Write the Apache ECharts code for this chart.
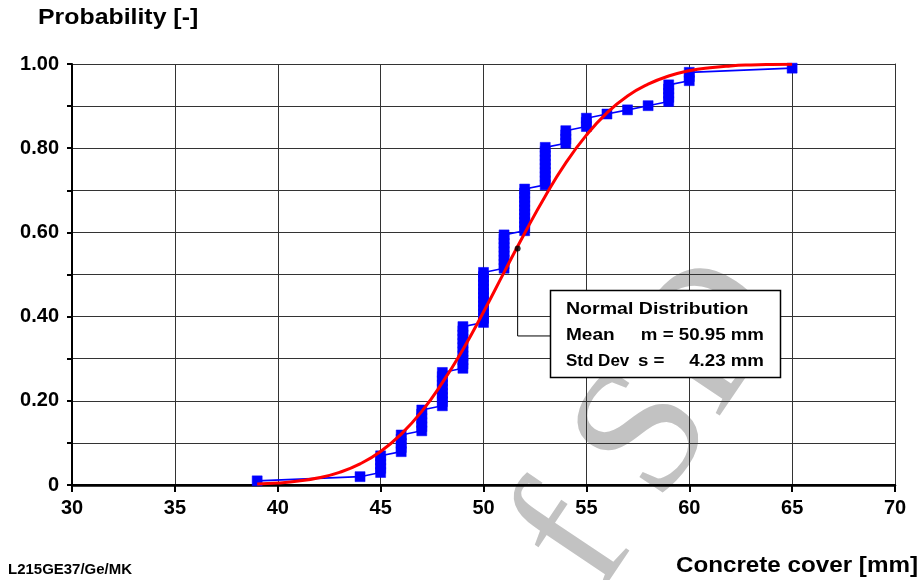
<!DOCTYPE html>
<html>
<head>
<meta charset="utf-8">
<script src="https://cdn.jsdelivr.net/npm/echarts@6/dist/echarts.min.js"></script>
<style>
html,body{margin:0;padding:0;background:#fff;}
#chart{width:924px;height:580px;}
</style>
</head>
<body>
<div id="chart"></div>
<script>
// Measured concrete cover values (mm) and how many readings at each value
const coverValues = [39, 44, 45, 46, 47, 48, 49, 50, 51, 52, 53, 54, 55, 56, 57, 58, 59, 60, 65];
const coverCounts = [1, 1, 5, 5, 6, 9, 11, 13, 9, 11, 10, 4, 3, 1, 1, 1, 5, 3, 1];

// Fitted normal distribution curve
const curveX = [39, 40, 41, 42, 43, 44, 45, 46, 47, 48, 49, 50, 51, 52, 53, 54, 55, 56, 57, 58, 59, 60, 61, 62, 63, 64, 65];
const curveP = [0.0024, 0.0048, 0.0093, 0.0172, 0.0301, 0.0502, 0.0797, 0.121, 0.175, 0.243, 0.322, 0.411, 0.505, 0.598, 0.686, 0.765, 0.831, 0.884, 0.924, 0.952, 0.9715, 0.9838, 0.9912, 0.9955, 0.9978, 0.999, 0.9996];

// Annotation leader: dot on curve, corner, end at box
const leaderX = [51.66, 51.66, 53.25];
const leaderP = [0.562, 0.354, 0.354];

const xTicks = [30, 35, 40, 45, 50, 55, 60, 65, 70];
const yTickLabels = ['0', '0.20', '0.40', '0.60', '0.80', '1.00'];

const boxLines = ['Normal Distribution', 'Mean', 'm = 50.95 mm', 'Std Dev', 's =', '4.23 mm'];

// empirical cumulative probabilities (rank / (n+1))
const n = coverCounts.reduce((a, b) => a + b, 0);
const empData = [];
let rank = 0;
coverValues.forEach((v, k) => {
  for (let j = 0; j < coverCounts[k]; j++) {
    rank++;
    empData.push([v, rank / (n + 1)]);
  }
});
const curveData = curveX.map((x, i) => [x, curveP[i]]);
const leaderData = leaderX.map((x, i) => [x, leaderP[i]]);

const FONT = 'Liberation Sans';
const chart = echarts.init(document.getElementById('chart'), null, {renderer: 'canvas'});

function txt(x, y, text, size, align, sx, z) {
  return {type: 'text', z: z || 50, x: x, y: y, scaleX: sx || 1,
    style: {text: text, font: 'bold ' + size + 'px "Liberation Sans"', fill: '#000',
      align: align || 'left', verticalAlign: 'middle'}};
}

chart.setOption({
  backgroundColor: '#ffffff',
  animation: false,
  grid: {left: 72, right: 29, top: 64, bottom: 95, containLabel: false},
  xAxis: [{
    type: 'value', min: 30, max: 70, interval: 5,
    axisLine: {show: true, lineStyle: {color: '#000', width: 2}},
    axisTick: {show: true, length: 7, lineStyle: {color: '#000', width: 2}},
    axisLabel: {color: '#000', fontFamily: FONT, fontWeight: 'bold', fontSize: 20, margin: 13,
      formatter: v => xTicks.indexOf(v) >= 0 ? String(v) : ''},
    splitLine: {show: true, lineStyle: {color: '#333', width: 1}}
  }, {
    type: 'value', position: 'top', min: 30, max: 70, interval: 5,
    axisLine: {show: true, lineStyle: {color: '#000', width: 2.5}},
    axisTick: {show: false}, axisLabel: {show: false}, splitLine: {show: false}
  }],
  yAxis: [{
    type: 'value', min: 0, max: 1, interval: 0.1,
    axisLine: {show: true, lineStyle: {color: '#000', width: 2}},
    axisTick: {show: true, length: 5, lineStyle: {color: '#000', width: 2}},
    axisLabel: {color: '#000', fontFamily: FONT, fontWeight: 'bold', fontSize: 20, margin: 13,
      formatter: v => {
        const k = Math.round(v * 10);
        return k % 2 === 0 ? yTickLabels[k / 2] : '';
      }},
    splitLine: {show: true, lineStyle: {color: '#333', width: 1}}
  }, {
    type: 'value', position: 'right', min: 0, max: 1,
    axisLine: {show: true, lineStyle: {color: '#333', width: 1}},
    axisTick: {show: false}, axisLabel: {show: false}, splitLine: {show: false}
  }],
  series: [{
    type: 'line', name: 'Measured', data: empData,
    symbol: 'rect', symbolSize: 10, showAllSymbol: true,
    itemStyle: {color: '#0000ff', borderColor: '#0000ff', borderWidth: 0.5},
    lineStyle: {color: '#0000ff', width: 1.6},
    z: 3
  }, {
    type: 'line', name: 'Normal', data: curveData,
    smooth: true, symbol: 'none',
    lineStyle: {color: '#ff0000', width: 3},
    z: 4
  }, {
    type: 'line', name: 'leader', data: leaderData,
    symbol: 'none', lineStyle: {color: '#000', width: 1},
    z: 5
  }, {
    type: 'scatter', name: 'dot', data: [leaderData[0]],
    symbol: 'circle', symbolSize: 6, itemStyle: {color: '#000'},
    z: 6
  }],
  graphic: [
    {type: 'text', z: -10, x: 655, y: 425, rotation: 0.98,
      style: {text: 'f SD', font: '185px "Liberation Serif"', fill: '#c2c2c2', align: 'center', verticalAlign: 'middle'}},
    txt(38, 18, 'Probability [-]', 22, 'left', 1.13),
    txt(918, 566, 'Concrete cover [mm]', 22, 'right', 1.1),
    txt(8, 570, 'L215GE37/Ge/MK', 14, 'left', 1.07),
    {type: 'rect', z: 100, shape: {x: 550.5, y: 290.5, width: 230, height: 87},
      style: {fill: '#fff', stroke: '#000', lineWidth: 1.5}},
    txt(566, 309, boxLines[0], 17, 'left', 1.15, 101),
    txt(566, 335, boxLines[1], 17, 'left', 1.12, 101),
    txt(764, 335, boxLines[2], 17, 'right', 1.1, 101),
    txt(566, 361, boxLines[3], 17, 'left', 1.0, 101),
    txt(638, 361, boxLines[4], 17, 'left', 1.1, 101),
    txt(764, 361, boxLines[5], 17, 'right', 1.1, 101)
  ]
});
</script>
</body>
</html>
